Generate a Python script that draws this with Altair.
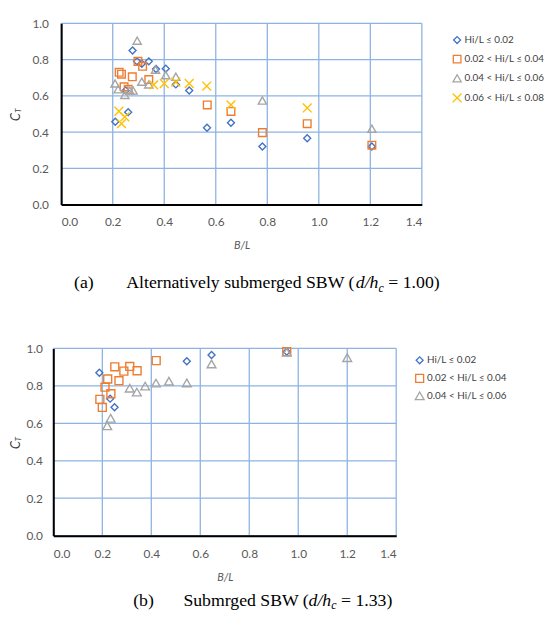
import altair as alt
import pandas as pd

series_labels = ["Hi/L ≤ 0.02", "0.02 < Hi/L ≤ 0.04", "0.04 < Hi/L ≤ 0.06", "0.06 < Hi/L ≤ 0.08"]
colors = ["#4472C4", "#ED7D31", "#A5A5A5", "#FFC000"]
shapes = ["diamond", "square", "triangle-up", "M-1,-1L1,1M-1,1L1,-1"]
sizes = [50, 80, 50, 60]
x_ticks = [0.0, 0.2, 0.4, 0.6, 0.8, 1.0, 1.2, 1.4]
y_ticks = [0.0, 0.2, 0.4, 0.6, 0.8, 1.0]

# (a) alternatively submerged
a_diamond_x = [0.21, 0.26, 0.25, 0.277, 0.294, 0.313, 0.34, 0.368, 0.406, 0.445, 0.497, 0.566, 0.659, 0.781, 0.955, 1.206]
a_diamond_y = [0.457, 0.51, 0.63, 0.85, 0.79, 0.777, 0.79, 0.748, 0.75, 0.663, 0.629, 0.424, 0.451, 0.32, 0.366, 0.32]
a_square_x = [0.225, 0.234, 0.244, 0.26, 0.276, 0.298, 0.316, 0.34, 0.567, 0.659, 0.781, 0.955, 1.206]
a_square_y = [0.73, 0.719, 0.65, 0.636, 0.705, 0.79, 0.763, 0.69, 0.55, 0.514, 0.397, 0.446, 0.328]
a_tri_x = [0.209, 0.221, 0.247, 0.266, 0.279, 0.295, 0.313, 0.34, 0.366, 0.406, 0.445, 0.781, 1.206]
a_tri_y = [0.668, 0.636, 0.605, 0.629, 0.629, 0.904, 0.678, 0.663, 0.744, 0.714, 0.705, 0.574, 0.418]
a_cross_x = [0.224, 0.234, 0.247, 0.359, 0.4, 0.445, 0.497, 0.565, 0.659, 0.955]
a_cross_y = [0.515, 0.447, 0.484, 0.66, 0.668, 0.676, 0.668, 0.654, 0.55, 0.533]

# (b) submerged
b_diamond_x = [0.188, 0.232, 0.25, 0.545, 0.646, 0.953]
b_diamond_y = [0.87, 0.732, 0.686, 0.932, 0.965, 0.983]
b_square_x = [0.19, 0.2, 0.211, 0.222, 0.235, 0.251, 0.268, 0.288, 0.312, 0.342, 0.42, 0.953]
b_square_y = [0.728, 0.685, 0.793, 0.837, 0.758, 0.902, 0.828, 0.879, 0.904, 0.881, 0.935, 0.983]
b_tri_x = [0.22, 0.234, 0.312, 0.341, 0.375, 0.419, 0.472, 0.545, 0.646, 0.953, 1.2]
b_tri_y = [0.587, 0.627, 0.788, 0.767, 0.799, 0.815, 0.825, 0.816, 0.917, 0.98, 0.951]

caption_a = ["(a)", "Alternatively submerged SBW (", "d/h", "c", "= 1.00)"]
caption_b = ["(b)", "Submrged SBW (", "d/h", "c", "= 1.33)"]
ylab = ["C", "T"]

GRID = "#8DB3E2"


def frame(groups):
    rows = []
    for lab, xs, ys in groups:
        for x, y in zip(xs, ys):
            rows.append({"x": x, "y": y, "series": lab})
    return pd.DataFrame(rows)


def txt(s, x, y, size=12, style="normal", font="Lato", color="#404040", angle=0,
        align="left", baseline="alphabetic"):
    return alt.Chart(pd.DataFrame({"t": [s]})).mark_text(
        font=font, fontSize=size, fontStyle=style, color=color, angle=angle,
        align=align, baseline=baseline
    ).encode(x=alt.value(x), y=alt.value(y), text="t:N")


def panel(df, n, w, h, xoff, leg_x, leg_y, row_pad, xlab_pad, ylab_pad, cpos, tpos,
          cap, cap_x, cap_y):
    xa = alt.Axis(values=x_ticks, format=".1f", title="B/L", titleFont="Lato",
                  titleFontStyle="italic", titleFontWeight="normal", titleFontSize=11,
                  titleColor="#595959", titleX=xoff + w / 2, titleY=42, titleBaseline="middle",
                  titleAlign="center", labelFont="Lato", labelFontSize=12,
                  labelColor="#595959", labelPadding=xlab_pad, ticks=False, grid=False,
                  domainColor="#000000", domainWidth=2, zindex=1)
    ya = alt.Axis(values=y_ticks, format=".1f", title=None, labelFont="Lato",
                  labelFontSize=12, labelColor="#595959", labelPadding=ylab_pad, ticks=False,
                  domainColor="#000000", domainWidth=2, grid=False, offset=-xoff, zindex=1)
    leg = alt.Legend(title=None, orient="none", legendX=leg_x, legendY=leg_y,
                     labelFont="Lato", labelFontSize=10, labelColor="#404040",
                     symbolSize=28, symbolStrokeWidth=1.3, rowPadding=row_pad,
                     labelOffset=2, padding=0)
    dom = series_labels[:n]
    xs = alt.Scale(domain=[0, 1.4], nice=False, zero=False, range=[xoff, xoff + w])
    ys = alt.Scale(domain=[0, 1], nice=False)
    hgrid = alt.Chart(pd.DataFrame({"y": y_ticks})).mark_rule(
        color=GRID, strokeWidth=1.3
    ).encode(
        y=alt.Y("y:Q", scale=ys, axis=ya),
        x=alt.datum(0.0, scale=xs, axis=xa),
        x2=alt.datum(1.4),
    )
    vgrid = alt.Chart(pd.DataFrame({"x": x_ticks})).mark_rule(
        color=GRID, strokeWidth=1.3
    ).encode(
        x=alt.X("x:Q", scale=xs, axis=xa),
        y=alt.datum(0.0, scale=ys, axis=ya),
        y2=alt.datum(1.0),
    )
    pts = alt.Chart(df).mark_point(filled=False, strokeWidth=1.4, opacity=1).encode(
        x=alt.X("x:Q", scale=xs, axis=xa),
        y=alt.Y("y:Q", scale=ys, axis=ya),
        color=alt.Color("series:N", scale=alt.Scale(domain=dom, range=colors[:n]), legend=leg),
        shape=alt.Shape("series:N", scale=alt.Scale(domain=dom, range=shapes[:n]), legend=leg),
        size=alt.Size("series:O", scale=alt.Scale(domain=dom, range=sizes[:n]), legend=None),
    )
    serif = "Liberation Serif"
    layers = [
        vgrid,
        hgrid,
        pts,
        txt(ylab[0], cpos[0], cpos[1], size=13, style="italic", angle=270,
            align="center", baseline="middle"),
        txt(ylab[1], tpos[0], tpos[1], size=8, style="italic", angle=270,
            align="center", baseline="middle"),
        txt(cap[0], cap_x[0], cap_y[0], size=18, font=serif, color="#000000"),
        txt(cap[1], cap_x[1], cap_y[0], size=18, font=serif, color="#000000"),
        txt(cap[2], cap_x[2], cap_y[0], size=18, font=serif, style="italic", color="#000000"),
        txt(cap[3], cap_x[3], cap_y[1], size=12, font=serif, style="italic", color="#000000"),
        txt(cap[4], cap_x[4], cap_y[0], size=18, font=serif, color="#000000"),
    ]
    return alt.layer(*layers).properties(width=w + xoff, height=h)


df_a = frame([(series_labels[0], a_diamond_x, a_diamond_y),
              (series_labels[1], a_square_x, a_square_y),
              (series_labels[2], a_tri_x, a_tri_y),
              (series_labels[3], a_cross_x, a_cross_y)])
df_b = frame([(series_labels[0], b_diamond_x, b_diamond_y),
              (series_labels[1], b_square_x, b_square_y),
              (series_labels[2], b_tri_x, b_tri_y)])

# both group origins at x = 54; the top plot is inset 8 px (plot area starts at 62)
top = panel(df_a, 4, 366, 184, 8, 404.3, 12, 5.4, 12, 13, (-37.5, 95), (-34.7, 88.5),
            caption_a, [21, 74, 307, 330, 340], (269, 272.5))
bottom = panel(df_b, 3, 348, 190, 0, 366.3, 7, 4.3, 13, 11, (-37.5, 98), (-34.6, 92),
               caption_b, [81, 132, 259, 282, 292], (261, 264.5))

chart = alt.vconcat(top, bottom, spacing=49).properties(
    padding={"left": 2, "top": 5, "right": 0, "bottom": 0}
).configure_view(stroke=None).resolve_scale(color="independent", shape="independent", size="independent")

chart.save("out.html", embed_options={"renderer": "svg", "actions": False})
